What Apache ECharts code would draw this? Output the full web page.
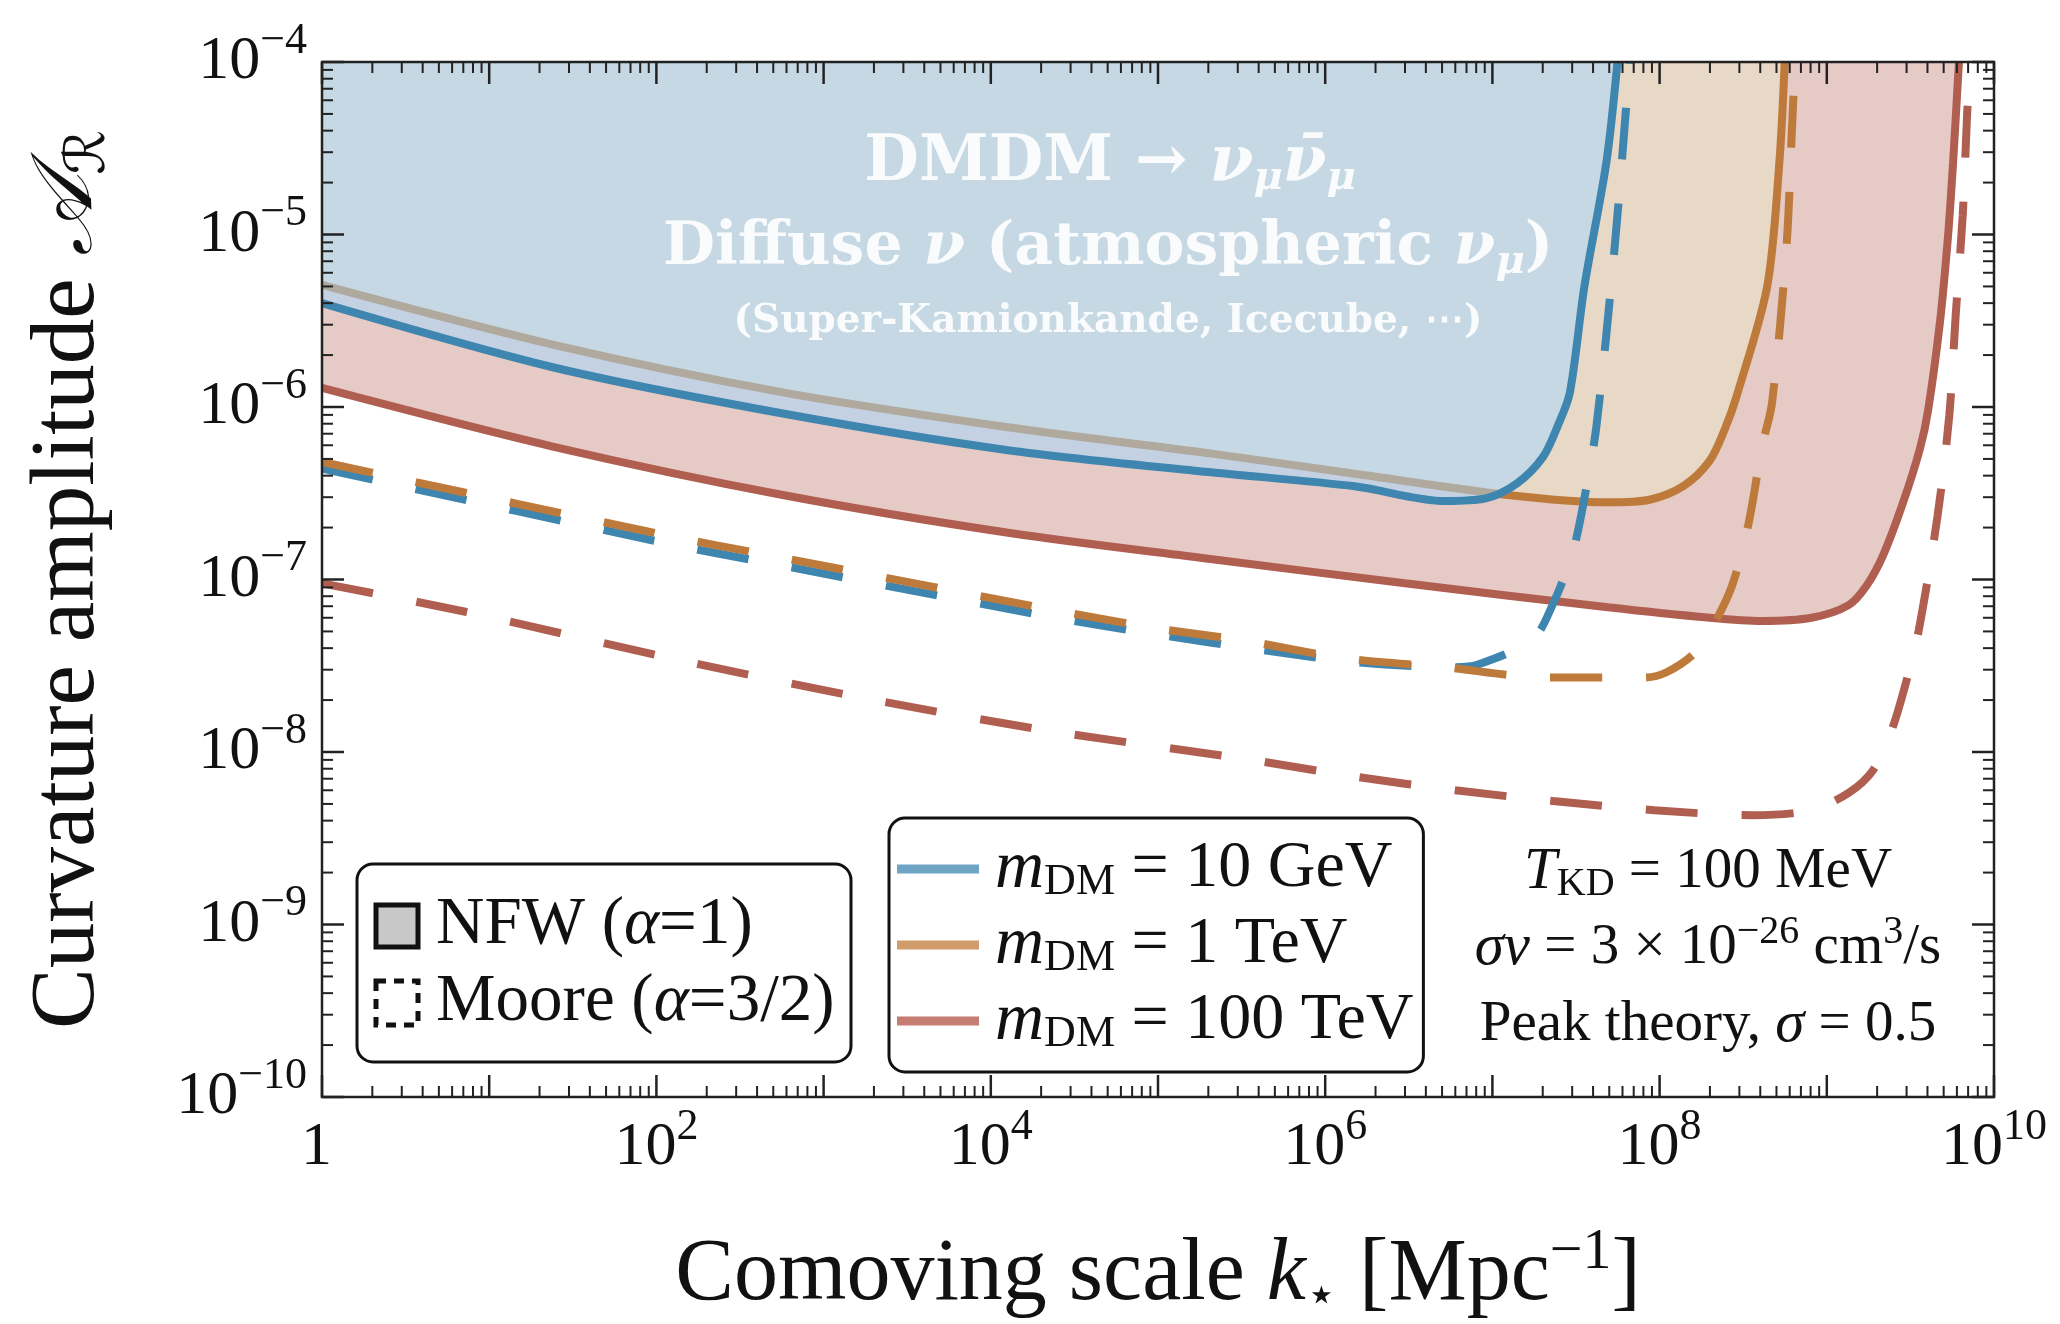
<!DOCTYPE html>
<html>
<head>
<meta charset="utf-8">
<script src="https://cdn.jsdelivr.net/npm/echarts@6/dist/echarts.min.js"></script>
<style>
html,body{margin:0;padding:0;background:#fff;}
#chart{width:2060px;height:1324px;}
</style>
</head>
<body>
<div id="chart"></div>
<script>
// ---------- data (k in Mpc^-1, A = curvature amplitude) ----------
// NFW (solid, excluded region above)
const kBlueNFW = [1, 2.4e1, 5.6e2, 1.3e4, 2.0e5, 1.5e6, 5.2e6, 9.1e6, 1.4e7, 2.0e7, 2.45e7, 2.9e7, 3.55e7, 4.8e7, 5.6e7];
const aBlueNFW = [4.0e-6, 1.7e-6, 9.2e-7, 5.6e-7, 4.2e-7, 3.47e-7, 2.85e-7, 2.95e-7, 3.6e-7, 5.1e-7, 7.7e-7, 1.2e-6, 5.0e-6, 2.6e-5, 1e-4];

const kOrangeNFW = [1, 2.4e1, 5.6e2, 1.3e4, 2.0e5, 1.5e6, 1.2e7, 4.9e7, 8.7e7, 1.4e8, 2.0e8, 2.45e8, 2.9e8, 4.4e8, 5.2e8, 5.6e8];
const aOrangeNFW = [5.1e-6, 2.3e-6, 1.22e-6, 7.6e-7, 5.4e-7, 4.1e-7, 3.1e-7, 2.8e-7, 2.9e-7, 3.5e-7, 4.9e-7, 7.4e-7, 1.17e-6, 5.0e-6, 2.6e-5, 1e-4];

const kRedNFW = [1, 2.4e1, 5.6e2, 1.3e4, 2.0e5, 3.0e6, 4.9e7, 2.0e8, 4.1e8, 8.1e8, 1.35e9, 1.74e9, 2.17e9, 2.86e9, 3.61e9, 4.03e9, 4.75e9, 5.31e9, 5.69e9, 6.17e9];
const aRedNFW = [1.29e-6, 5.9e-7, 3.1e-7, 1.86e-7, 1.32e-7, 9.5e-8, 6.9e-8, 6.0e-8, 5.75e-8, 6.0e-8, 7.1e-8, 9.3e-8, 1.38e-7, 2.8e-7, 5.75e-7, 9.5e-7, 3.1e-6, 9.8e-6, 2.6e-5, 1e-4];

// Moore (dashed)
const kBlueMoore = [1, 1.15e2, 4.4e2, 2.7e4, 1.0e5, 4.2e5, 1.6e6, 6.0e6, 8.1e6, 1.74e7, 2.3e7, 3.0e7, 3.5e7, 4.2e7, 5.4e7, 6.3e7, 6.6e7];
const aBlueMoore = [4.4e-7, 1.62e-7, 1.26e-7, 5.9e-8, 4.8e-8, 3.9e-8, 3.3e-8, 3.1e-8, 3.2e-8, 4.5e-8, 7.2e-8, 1.4e-7, 2.75e-7, 7.9e-7, 8.7e-6, 5.4e-5, 1e-4];

const kOrangeMoore = [1, 1.15e2, 4.4e2, 2.7e4, 1.0e5, 3.4e5, 1.3e6, 5.2e6, 2.1e7, 8.1e7, 1.1e8, 1.6e8, 2.0e8, 2.7e8, 3.4e8, 4.1e8, 4.7e8, 5.75e8, 6.3e8, 6.6e8];
const aOrangeMoore = [4.8e-7, 1.8e-7, 1.4e-7, 6.5e-8, 5.2e-8, 4.4e-8, 3.5e-8, 3.1e-8, 2.7e-8, 2.7e-8, 2.9e-8, 3.7e-8, 5.0e-8, 9.1e-8, 2.1e-7, 5.9e-7, 1.05e-6, 8.7e-6, 6.0e-5, 1e-4];

const kRedMoore = [1, 7.2e0, 1.07e2, 1.55e3, 2.0e4, 3.9e5, 1.5e6, 6.0e6, 2.3e7, 9.3e7, 3.6e8, 8.1e8, 1.35e9, 1.9e9, 2.45e9, 3.0e9, 3.55e9, 4.6e9, 5.4e9, 5.9e9, 6.5e9, 6.9e9, 7.2e9];
const aRedMoore = [9.5e-8, 6.5e-8, 3.6e-8, 2.1e-8, 1.35e-8, 8.9e-9, 7.2e-9, 6.0e-9, 5.2e-9, 4.6e-9, 4.3e-9, 4.6e-9, 5.8e-9, 7.9e-9, 1.35e-8, 2.6e-8, 5.1e-8, 2.35e-7, 8.9e-7, 3.4e-6, 1.29e-5, 4.9e-5, 1e-4];

const massLabels = ['10 GeV', '1 TeV', '100 TeV'];
const xRange = [1, 1e10];
const yRange = [1e-10, 1e-4];
const tickMultipliers = [2, 3, 4, 5, 6, 7, 8, 9];

// ---------- styles ----------
const FONT = '"Liberation Serif", "DejaVu Serif", serif';
const WFONT = '"DejaVu Serif", "Liberation Serif", serif';
const C_BLUE = '#3e86af', C_ORANGE = '#be7a3b', C_RED = '#b05e50';
const F_BLUE = 'rgba(162,216,255,0.5)', F_ORANGE = '#e8d8c6', F_RED = '#e6cac6';
const L_BLUE = '#6ea4c4', L_ORANGE = '#d09c6c', L_RED = '#c57c72';

function pairs(ks, as) { return ks.map((k, i) => [k, as[i]]); }
function expOf(v) { return Math.round(Math.log10(v)); }

const chart = echarts.init(document.getElementById('chart'), null, {renderer: 'canvas'});

const labelRich = {
  b: {fontFamily: FONT, fontSize: 62, lineHeight: 62, color: '#111'},
  p: {fontFamily: FONT, fontSize: 44, lineHeight: 44, color: '#111', padding: [0, 0, 42, 0]}
};

function solidSeries(name, data, lc, fc, z) {
  return {
    name: name, type: 'line', data: data, z: z,
    showSymbol: false, symbol: 'none', smooth: 0.3, clip: true,
    lineStyle: {color: lc, width: 8},
    itemStyle: {color: lc},
    areaStyle: {color: fc, opacity: 1, origin: 'end'},
    emphasis: {disabled: true}, silent: true
  };
}
function dashedSeries(name, data, lc, z) {
  return {
    name: name, type: 'line', data: data, z: z,
    showSymbol: false, symbol: 'none', smooth: 0.3, clip: true,
    lineStyle: {color: lc, width: 8, type: [52, 44]},
    itemStyle: {color: lc},
    emphasis: {disabled: true}, silent: true
  };
}

const tickSeries = {
  type: 'custom', z: 20, silent: true, clip: false,
  data: [[1, 1e-10]],
  renderItem: function (params, api) {
    const ch = [];
    const p0 = api.coord([xRange[0], yRange[0]]);
    const p1 = api.coord([xRange[1], yRange[1]]);
    const L = p0[0], B = p0[1], R = p1[0], T = p1[1];
    function seg(a, b, c, d, w) {
      ch.push({type: 'line', shape: {x1: a, y1: b, x2: c, y2: d}, style: {stroke: '#222', lineWidth: w}});
    }
    const ex0 = expOf(xRange[0]), ex1 = expOf(xRange[1]);
    for (let e = ex0; e <= ex1; e++) {
      const base = Math.pow(10, e);
      const px = api.coord([base, yRange[0]])[0];
      seg(px, B, px, B - 22, 2.5); seg(px, T, px, T + 22, 2.5);
      if (e < ex1) tickMultipliers.forEach(m => {
        const q = api.coord([m * base, yRange[0]])[0];
        seg(q, B, q, B - 11, 2); seg(q, T, q, T + 11, 2);
      });
    }
    const ey0 = expOf(yRange[0]), ey1 = expOf(yRange[1]);
    for (let e = ey0; e <= ey1; e++) {
      const base = Math.pow(10, e);
      const py = api.coord([xRange[0], base])[1];
      seg(L, py, L + 22, py, 2.5); seg(R, py, R - 22, py, 2.5);
      if (e < ey1) tickMultipliers.forEach(m => {
        const q = api.coord([xRange[0], m * base])[1];
        seg(L, q, L + 11, q, 2); seg(R, q, R - 11, q, 2);
      });
    }
    ch.push({type: 'rect', shape: {x: L, y: T, width: R - L, height: B - T},
      style: {fill: 'none', stroke: '#222', lineWidth: 2.5}});
    return {type: 'group', children: ch};
  }
};

const textWhite = 'rgba(255,255,255,0.9)';
const whiteRich = {
  t: {fontFamily: WFONT, fontSize: 60, fontWeight: 'bold', fill: textWhite, lineHeight: 70},
  h: {fontFamily: WFONT, fontSize: 63, fontWeight: 'bold', fill: textWhite, lineHeight: 70},
  i: {fontFamily: WFONT, fontSize: 60, fontWeight: 'bold', fontStyle: 'italic', fill: textWhite, lineHeight: 70},
  j: {fontFamily: WFONT, fontSize: 63, fontWeight: 'bold', fontStyle: 'italic', fill: textWhite, lineHeight: 70},
  s: {fontFamily: WFONT, fontSize: 40, fontWeight: 'bold', fontStyle: 'italic', fill: textWhite, lineHeight: 40, padding: [30, 0, 0, 0]},
  r: {fontFamily: WFONT, fontSize: 39, fontWeight: 'bold', fill: textWhite, lineHeight: 44}
};

const blackRich = {
  t: {fontFamily: FONT, fontSize: 57, fill: '#111', lineHeight: 62},
  i: {fontFamily: FONT, fontSize: 59, fontStyle: 'italic', fill: '#111', lineHeight: 62},
  s: {fontFamily: FONT, fontSize: 40, fill: '#111', lineHeight: 40, padding: [24, 0, 0, 0]},
  p: {fontFamily: FONT, fontSize: 40, fill: '#111', lineHeight: 40, padding: [0, 0, 32, 0]}
};

const boxRich = {
  t: {fontFamily: FONT, fontSize: 67, fill: '#111', lineHeight: 68},
  i: {fontFamily: FONT, fontSize: 67, fontStyle: 'italic', fill: '#111', lineHeight: 68}
};

const legRich = {
  t: {fontFamily: FONT, fontSize: 66, color: '#111', lineHeight: 66},
  m: {fontFamily: FONT, fontSize: 68, fontStyle: 'italic', color: '#111', lineHeight: 66, padding: [0, 0, 0, 11]},
  d: {fontFamily: FONT, fontSize: 44, color: '#111', lineHeight: 44, padding: [26, 0, 0, 0]}
};

const option = {
  animation: false,
  backgroundColor: '#fff',
  grid: {left: 322, top: 62, right: 66, bottom: 227, containLabel: false, outerBoundsMode: 'none'},
  legend: {
    left: 889, top: 818,
    orient: 'vertical',
    data: [
      {name: massLabels[0], itemStyle: {color: L_BLUE}},
      {name: massLabels[1], itemStyle: {color: L_ORANGE}},
      {name: massLabels[2], itemStyle: {color: L_RED}}
    ],
    icon: 'rect', itemWidth: 82, itemHeight: 9, itemGap: 6,
    padding: [16, 10, 16, 8],
    backgroundColor: '#fff', borderColor: '#111', borderWidth: 3, borderRadius: 16,
    selectedMode: false,
    formatter: function (n) { return '{m|m}{d|DM}{t| = ' + n + '}'; },
    textStyle: {rich: legRich, fontFamily: FONT, fontSize: 66, color: '#111'}
  },
  xAxis: [{
    type: 'log', logBase: 10, min: xRange[0], max: xRange[1], interval: 2, splitNumber: 5,
    position: 'bottom', z: 15,
    axisLine: {show: false}, axisTick: {show: false}, splitLine: {show: false}, minorTick: {show: false},
    axisLabel: {
      margin: 20,
      formatter: function (v) {
        const e = expOf(v);
        if (e % 2 !== 0) return '';
        if (e === 0) return '{b|1}{p| }';
        return '{b|10}{p|' + e + '}';
      },
      rich: labelRich
    },
    name: '{t|Comoving scale }{i|k}{s|⋆}{t| [Mpc}{p|−1}{t|]}',
    nameLocation: 'middle', nameGap: 132, nameMoveOverlap: false,
    nameTextStyle: {
      rich: {
        t: {fontFamily: FONT, fontSize: 88, color: '#111', lineHeight: 94},
        i: {fontFamily: FONT, fontSize: 88, fontStyle: 'italic', color: '#111', lineHeight: 94},
        s: {fontFamily: '"DejaVu Sans", sans-serif', fontSize: 50, color: '#111', lineHeight: 50, padding: [44, 0, 0, 0]},
        p: {fontFamily: FONT, fontSize: 58, color: '#111', lineHeight: 58, padding: [0, 0, 46, 0]}
      }
    }
  }],
  yAxis: [{
    type: 'log', logBase: 10, min: yRange[0], max: yRange[1], interval: 1, splitNumber: 6,
    position: 'left', z: 15,
    axisLine: {show: false}, axisTick: {show: false}, splitLine: {show: false}, minorTick: {show: false},
    axisLabel: {
      margin: 15,
      formatter: function (v) {
        const e = expOf(v);
        return '{b|10}{p|−' + Math.abs(e) + '}';
      },
      rich: labelRich
    },
    name: '{t|Curvature amplitude }{a|𝒜}{s|ℛ}',
    nameLocation: 'middle', nameGap: 205, nameRotate: 90, nameMoveOverlap: false,
    nameTextStyle: {
      rich: {
        t: {fontFamily: FONT, fontSize: 91, color: '#111', lineHeight: 96},
        a: {fontFamily: '"DejaVu Serif", "DejaVu Sans", serif', fontSize: 86, fontStyle: 'italic', color: '#111', lineHeight: 96},
        s: {fontFamily: '"DejaVu Serif", "DejaVu Sans", serif', fontSize: 56, color: '#111', lineHeight: 56, padding: [40, 0, 0, 0]}
      }
    }
  }],
  series: [
    solidSeries(massLabels[2], pairs(kRedNFW, aRedNFW), C_RED, F_RED, 2),
    solidSeries(massLabels[1], pairs(kOrangeNFW, aOrangeNFW), C_ORANGE, F_ORANGE, 3),
    solidSeries(massLabels[0], pairs(kBlueNFW, aBlueNFW), C_BLUE, F_BLUE, 4),
    dashedSeries('Moore ' + massLabels[2], pairs(kRedMoore, aRedMoore), C_RED, 5),
    dashedSeries('Moore ' + massLabels[0], pairs(kBlueMoore, aBlueMoore), C_BLUE, 5),
    dashedSeries('Moore ' + massLabels[1], pairs(kOrangeMoore, aOrangeMoore), C_ORANGE, 6),
    tickSeries
  ],
  graphic: [
    // region annotation
    {type: 'text', z: 50, x: 1110, y: 164, style: {
      text: '{h|DMDM → }{j|ν}{s|μ}{j|ν̄}{s|μ}', rich: whiteRich, align: 'center', verticalAlign: 'middle'}},
    {type: 'text', z: 50, x: 1108, y: 248, style: {
      text: '{t|Diffuse }{i|ν}{t| (atmospheric }{i|ν}{s|μ}{t|)}', rich: whiteRich, align: 'center', verticalAlign: 'middle'}},
    {type: 'text', z: 50, x: 1108, y: 322, style: {
      text: '{r|(Super-Kamionkande, Icecube, ⋯)}', rich: whiteRich, align: 'center', verticalAlign: 'middle'}},
    // halo-profile legend box
    {type: 'rect', z: 40, shape: {x: 357, y: 864, width: 494, height: 198, r: 16},
      style: {fill: '#fff', stroke: '#111', lineWidth: 3}},
    {type: 'rect', z: 41, shape: {x: 376, y: 905, width: 42, height: 42},
      style: {fill: '#c8c8c8', stroke: '#111', lineWidth: 5}},
    {type: 'rect', z: 41, shape: {x: 376, y: 981, width: 42, height: 44},
      style: {fill: 'none', stroke: '#111', lineWidth: 5, lineDash: [10, 8]}},
    {type: 'text', z: 41, x: 436, y: 925, style: {
      text: '{t|NFW (}{i|α}{t|=1)}', rich: boxRich, verticalAlign: 'middle'}},
    {type: 'text', z: 41, x: 436, y: 1002, style: {
      text: '{t|Moore (}{i|α}{t|=3/2)}', rich: boxRich, verticalAlign: 'middle'}},
    // parameters
    {type: 'text', z: 41, x: 1708, y: 872, style: {
      text: '{i|T}{s|KD}{t| = 100 MeV}', rich: blackRich, align: 'center', verticalAlign: 'middle'}},
    {type: 'text', z: 41, x: 1708, y: 948, style: {
      text: '{i|σv}{t| = 3 × 10}{p|−26}{t| cm}{p|3}{t|/s}', rich: blackRich, align: 'center', verticalAlign: 'middle'}},
    {type: 'text', z: 41, x: 1708, y: 1025, style: {
      text: '{t|Peak theory, }{i|σ}{t| = 0.5}', rich: blackRich, align: 'center', verticalAlign: 'middle'}}
  ]
};

chart.setOption(option);
</script>
</body>
</html>
